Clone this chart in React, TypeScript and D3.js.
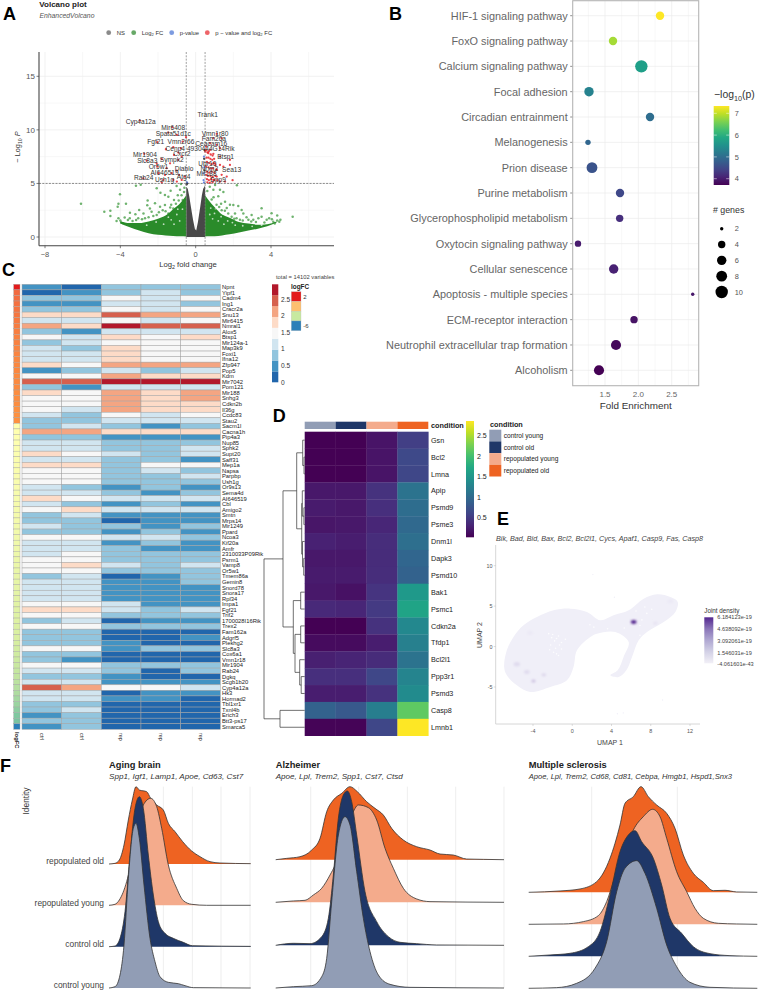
import * as d3 from 'd3';

const FONT = '"Liberation Sans", Arial, sans-serif';

// A: volcano, values as [log2FC, -log10 P]
const volcanoGreenLeft = [[-0.5, 0.05, 3.9], [-0.8, 0.06, 3.2], [-1.2, 0.1, 2.6], [-1.6, 0.15, 2.0], [-2.0, 0.2, 1.7], [-2.5, 0.35, 1.45], [-3.0, 0.6, 1.3], [-3.5, 0.9, 1.3], [-4.0, 1.25, 1.45]];
const volcanoGreenRight = [[0.5, 0.05, 3.9], [0.7, 0.06, 3.4], [1.0, 0.08, 2.8], [1.4, 0.15, 2.1], [1.8, 0.25, 1.8], [2.3, 0.42, 1.4], [2.8, 0.6, 1.25], [3.3, 0.78, 1.15], [3.8, 1.0, 1.2], [4.3, 1.35, 1.45]];
const volcanoGreyTop = [[-0.5, 4.7], [-0.42, 4.5], [-0.34, 3.8], [-0.26, 2.9], [-0.14, 1.6], [-0.04, 0.75], [0.03, 0.6], [0.12, 1.4], [0.25, 2.9], [0.33, 3.9], [0.4, 4.5], [0.5, 4.8]];
const greenPoints = [[-6.09, 3.11], [-4.85, 2.36], [-4.53, 2.46], [-4.53, 1.96], [-4.02, 3.98], [-4.1, 3.11], [-4.14, 2.83], [-3.7, 3.11], [-3.17, 4.79], [-2.92, 4.88], [-2.55, 3.4], [-2.57, 2.96], [-3.0, 2.53], [-3.49, 2.27], [-3.2, 2.12], [-3.77, 1.81], [-4.1, 1.74], [-2.07, 4.55], [-1.87, 4.14], [-1.63, 3.92], [-1.33, 4.32], [-1.01, 4.76], [-0.78, 4.95], [-1.45, 3.76], [-1.15, 3.46], [-2.16, 3.14], [-1.89, 2.83], [-2.34, 2.36], [-2.77, 2.2], [-2.69, 1.75], [-1.63, 2.98], [-1.19, 2.67], [-0.83, 4.4], [-0.69, 3.46], [-2.43, 2.67], [-1.45, 2.2], [-2.07, 2.05], [-3.16, 1.58], [-3.6, 1.58], [-4.0, 1.55], [-3.85, 1.28],
  [-0.62, 4.2], [-0.95, 3.9], [-1.05, 3.1], [-1.3, 3.0], [-1.75, 2.5], [-0.75, 3.9], [-0.6, 4.6], [-1.6, 2.4], [-1.95, 2.3], [-2.25, 1.95], [-2.5, 1.85], [-2.85, 1.65], [-3.05, 1.75], [-3.35, 1.5], [-3.5, 1.75], [-3.95, 1.35], [-4.2, 1.5], [-1.35, 2.75], [-0.9, 3.4],
  [2.19, 4.83], [2.0, 2.99], [2.26, 2.9], [2.44, 2.52], [2.09, 2.2], [2.53, 2.2], [3.5, 2.68], [4.03, 2.21], [3.9, 1.75], [4.33, 2.0], [4.33, 1.53], [5.15, 1.9], [4.44, 1.43], [4.12, 1.43], [3.33, 1.75], [2.97, 2.05], [2.8, 1.6], [3.06, 1.6], [3.5, 1.9], [3.77, 1.6], [1.03, 4.86], [1.29, 4.4], [0.94, 4.4], [1.47, 4.2], [1.2, 3.8], [1.56, 3.3], [0.85, 3.5], [0.76, 3.0], [1.11, 3.0], [1.03, 2.5], [1.82, 3.0], [1.38, 2.5], [1.73, 2.2], [1.65, 2.7], [1.91, 1.9], [2.17, 1.75], [2.35, 1.6], [1.47, 1.9],
  [0.62, 4.3], [0.75, 4.7], [0.95, 3.7], [1.35, 3.1], [1.25, 2.8], [1.55, 2.45], [2.05, 1.7], [2.5, 1.55], [2.7, 1.85], [2.95, 1.45], [3.2, 1.4], [3.65, 1.35], [4.05, 1.65], [4.5, 1.6], [4.2, 1.25]];
const greenSpecks = [[-1.3, 1.6], [-1.0, 2.1], [-0.85, 1.5], [-1.7, 1.2], [-0.7, 2.6], [-1.45, 1.85], [-0.95, 2.6], [-1.15, 1.2], [-2.1, 1.4], [-2.6, 1.1], [1.0, 2.2], [1.2, 1.5], [0.8, 2.7], [1.5, 1.2], [0.9, 1.7], [1.7, 1.5], [2.1, 1.1], [1.35, 1.9], [0.75, 2.1], [1.05, 2.6], [1.95, 1.35], [2.5, 1.05], [3.0, 1.0], [3.5, 1.1]];
const redPoints = [[-2.96, 10.87], [-1.24, 10.25], [-1.45, 9.75], [-1.0, 9.53], [-0.51, 9.31], [-0.69, 8.91], [-2.04, 8.85], [-1.58, 8.19], [-1.19, 8.38], [-0.78, 8.29], [-0.92, 7.88], [-2.73, 7.76], [-1.15, 7.66], [-0.74, 7.51], [-2.6, 7.13], [-1.8, 7.26], [-1.36, 6.88], [-0.92, 7.2], [-2.07, 6.88], [-1.54, 6.42], [-2.04, 6.57], [-1.0, 6.2], [-1.98, 5.95], [-1.63, 5.79], [-1.27, 5.95], [-0.88, 5.79], [-0.57, 5.64], [-2.78, 5.48], [-1.72, 5.33], [-1.8, 5.08], [-1.19, 5.33], [-0.74, 5.33], [-1.0, 5.17],
  [1.12, 9.63], [0.94, 9.22], [1.38, 9.22], [0.76, 8.75], [1.12, 8.6], [0.55, 8.44], [0.76, 8.13], [1.29, 8.29], [0.5, 7.98], [0.67, 7.82], [0.94, 7.76], [1.29, 7.51], [0.55, 8.1], [0.62, 7.9], [0.7, 8.0], [0.8, 7.7], [0.9, 7.6], [0.58, 7.4], [0.68, 7.4], [0.78, 7.3], [0.88, 7.2], [0.98, 7.3], [0.6, 7.0], [0.72, 6.9], [0.85, 6.8], [0.95, 6.9], [1.05, 6.7], [0.55, 6.6], [0.68, 6.5], [0.8, 6.4], [0.92, 6.4], [1.1, 6.3], [0.6, 6.1], [0.72, 6.0], [0.85, 6.1], [1.0, 6.0], [0.55, 5.8], [0.65, 5.7], [0.78, 5.7], [0.9, 5.6], [1.05, 5.7], [0.6, 5.4], [0.7, 5.3], [0.82, 5.4], [0.98, 5.3], [0.62, 5.1], [0.75, 5.05], [0.9, 5.1], [1.15, 5.3], [1.82, 7.2], [1.82, 6.73], [1.47, 6.57], [1.12, 6.26], [1.38, 5.8], [1.65, 5.64], [1.96, 5.3], [1.29, 5.17], [0.94, 5.33], [1.12, 5.64], [1.56, 5.17], [1.29, 6.73], [1.03, 6.88]];
const bluePoints = [[0.44, 5.08], [0.41, 5.95], [0.46, 6.5], [0.44, 7.5], [0.42, 5.3], [-0.46, 5.1]];
const greyPoints = [[-0.48, 4.9], [-0.45, 5.0], [0.48, 8.1], [0.45, 7.3], [0.47, 6.2]];
const volcanoLabels: [string, number, number][] = [['Trank1', 0.64, 11.46], ['Cyp4a12a', -2.92, 10.78], ['Mir6408', -1.19, 10.19], ['Spata51d1c', -1.19, 9.6], ['Vmn1r80', 1.03, 9.66], ['Fam26a', 0.97, 9.16], ['Fgf21', -2.12, 8.88], ['Vmn2r66', -0.78, 8.85], ['Ceacam16', 0.83, 8.69], ['Cenp4', -1.08, 8.22], ['4930444G14Rik', 0.8, 8.22], ['Cxcr2', -0.73, 7.73], ['Btsp1', 1.59, 7.51], ['Mir1904', -2.69, 7.69], ['Slc8a3', -2.57, 7.1], ['Sympk2', -1.27, 7.23], ['Ubr10', 0.62, 6.88], ['Or5w1', -1.98, 6.54], ['Diablo', -0.62, 6.39], ['Sea13', 1.91, 6.32], ['Nrxn2', 0.73, 6.39], ['AI646519', -1.65, 6.01], ['Mir188', 0.58, 5.89], ['Rab24', -2.76, 5.51], ['Ush1g', -1.65, 5.39], ['Atg4', -0.64, 5.61], ['Dpp9', 1.19, 5.33]];

// B: enrichment dot plot
const pathways = ['HIF-1 signaling pathway', 'FoxO signaling pathway', 'Calcium signaling pathway', 'Focal adhesion', 'Circadian entrainment', 'Melanogenesis', 'Prion disease', 'Purine metabolism', 'Glycerophospholipid metabolism', 'Oxytocin signaling pathway', 'Cellular senescence', 'Apoptosis - multiple species', 'ECM-receptor interaction', 'Neutrophil extracellular trap formation', 'Alcoholism'];
const foldEnrichment = [2.325, 1.62, 2.045, 1.26, 2.175, 1.245, 1.305, 1.725, 1.72, 1.095, 1.63, 2.815, 1.935, 1.665, 1.41];
const minusLogP = [7.33, 6.85, 5.75, 5.3, 5.0, 4.9, 4.65, 4.5, 4.2, 4.0, 4.05, 3.95, 3.9, 3.8, 3.72];
const geneCounts = [5, 5, 10, 6, 5, 3, 8, 5, 4, 3.5, 6, 2, 4, 7, 7];
const geneLegend = [2, 4, 6, 8, 10];

// C: heatmap, colour bin per cell
const heatGenes = ['Npnt', 'Yipf1', 'Cadm4', 'Ing1', 'Cracr2a', 'Snu13', 'Mir6415', 'Nmral1', 'Alox5', 'Btsp1', 'Mir124a-1', 'Map3k9', 'Foxi1', 'Ifna12', 'Zfp947', 'Pop5', 'Kdm', 'Mir7042', 'Pom121', 'Mir188', 'Snhg3', 'Cdkn2b', 'Il36g', 'Ccdc83', 'Stau2', 'Sacm1l', 'Cacna1h', 'Pip4a3', 'Nup85', 'Sphk2', 'Supt20', 'Saff31', 'Mep1a', 'Napsa', 'Parpbp', 'Ush1g', 'Or9s13', 'Sema4d', 'AI646519', 'Cbl', 'Amigo2', 'Smtn', 'Mrps14', 'Mir1249', 'Ppard', 'Ncoa3', 'Kif20a', 'Amfr', '2310033P09Rik', 'Psrm1', 'Vamp8', 'Or5w1', 'Tmem86a', 'Gemin8', 'Snord78', 'Snora17', 'Rpl34', 'Impa1', 'Fgf21', 'Trif2', '1700028I16Rik', 'Trex2', 'Fam162a', 'Adgrf5', 'Plekhg2', 'Slc8a3', 'Cox6a1', 'Vmn1r18', 'Mir1904', 'Rab24', 'Dgkq', 'Scgb1b20', 'Cyp4a12a', 'Hk3', 'Hormad2', 'Tbl1xr1', 'Txnl4b', 'Erich3', 'Btt3-ps17', 'Smarca5'];
const heatColumns = ['ctrl', 'ctrl', 'rep', 'rep', 'rep'];
const heatBins = [[1, 0, 2, 2, 2], [0, 1, 2, 3, 2], [2, 2, 4, 3, 4], [1, 1, 3, 3, 2], [2, 2, 4, 3, 4], [5, 5, 7, 6, 6], [3, 3, 4, 3, 4], [6, 5, 8, 7, 7], [2, 1, 3, 3, 3], [4, 3, 5, 4, 5], [2, 3, 4, 4, 4], [3, 2, 5, 4, 4], [3, 3, 5, 4, 4], [3, 3, 5, 4, 4], [5, 4, 6, 6, 6], [1, 2, 3, 2, 3], [4, 4, 6, 5, 5], [7, 7, 8, 8, 8], [2, 1, 3, 3, 3], [5, 4, 6, 5, 6], [4, 4, 6, 5, 6], [4, 4, 6, 5, 5], [4, 3, 6, 5, 5], [3, 2, 4, 3, 4], [2, 2, 3, 3, 3], [2, 3, 2, 1, 2], [6, 6, 5, 5, 5], [2, 2, 1, 1, 1], [3, 3, 2, 2, 2], [3, 3, 2, 2, 3], [5, 4, 3, 2, 3], [3, 3, 2, 2, 1], [5, 5, 2, 4, 4], [4, 4, 2, 3, 2], [4, 4, 2, 2, 3], [4, 4, 2, 2, 2], [3, 2, 1, 2, 1], [3, 3, 2, 1, 2], [5, 4, 3, 3, 3], [3, 2, 1, 2, 1], [4, 5, 3, 3, 3], [2, 3, 1, 1, 1], [2, 2, 0, 1, 1], [3, 2, 2, 1, 2], [2, 2, 1, 2, 1], [4, 4, 3, 3, 2], [3, 3, 1, 2, 1], [3, 3, 2, 1, 1], [3, 4, 2, 2, 2], [4, 4, 2, 2, 2], [4, 5, 3, 2, 3], [4, 4, 2, 2, 2], [2, 3, 0, 1, 2], [3, 3, 1, 1, 2], [3, 3, 1, 1, 1], [3, 3, 1, 1, 1], [3, 3, 1, 1, 1], [4, 4, 3, 1, 1], [5, 5, 3, 2, 3], [4, 4, 2, 2, 2], [2, 3, 0, 1, 1], [4, 4, 2, 2, 2], [2, 2, 0, 0, 0], [2, 2, 0, 0, 1], [2, 2, 1, 0, 0], [4, 4, 1, 2, 2], [2, 2, 0, 0, 0], [2, 1, 0, 0, 0], [4, 4, 2, 2, 2], [3, 3, 2, 0, 2], [2, 2, 1, 0, 0], [3, 3, 1, 1, 1], [7, 6, 4, 4, 3], [3, 3, 0, 1, 1], [3, 3, 1, 1, 0], [2, 2, 0, 0, 0], [2, 3, 0, 0, 0], [1, 2, 0, 0, 0], [2, 2, 0, 0, 0], [1, 2, 0, 0, 0]];
const heatPalette = ['#2166ac', '#4393c3', '#92c5de', '#d1e5f0', '#f7f7f7', '#fddbc7', '#f4a582', '#d6604d', '#b2182b'];
const heatLegendTicks = [0, 0.5, 1, 1.5, 2, 2.5];
const logFC = [2.0, 1.4, 1.35, 1.3, 1.25, 1.2, 1.15, 1.1, 1.05, 1.0, 1.0, 0.95, 0.95, 0.9, 0.9, 0.9, 0.85, 0.85, 0.85, 0.8, 0.8, 0.8, 0.75, 0.75, 0.75,
  -0.4, -0.4, -0.42, -0.42, -0.45, -0.45, -0.48, -0.48, -0.5, -0.5, -0.52, -0.52, -0.55, -0.55, -0.58, -0.6, -0.6, -0.62, -0.65, -0.65, -0.68, -0.7, -0.72, -0.75, -0.78, -0.8, -0.82, -0.85, -0.88, -0.9, -0.92, -0.95, -0.98, -1.0, -1.02, -1.05, -1.1, -1.12, -1.15, -1.2, -1.25, -1.3, -1.35, -1.4, -1.45, -1.5, -1.6, -1.7, -1.8, -1.95, -2.1, -2.3, -2.5, -2.7, -6.0];

// D: condition heatmap
const conditions = ['control young', 'control old', 'repopulated young', 'repopulated old'];
const conditionColors = ['#919db5', '#1f3768', '#f4ab8c', '#ee6322'];
const apoptosisGenes = ['Gsn', 'Bcl2', 'Lmna', 'Apip', 'Psmd9', 'Psme3', 'Dnm1l', 'Dapk3', 'Psmd10', 'Bak1', 'Psmc1', 'Cdkn2a', 'Tfdp1', 'Bcl2l1', 'Ppp3r1', 'Psmd3', 'Casp8', 'Lmnb1'];
const apoptosisValues = [[0.03, 0.03, 0.17, 0.55], [0.03, 0.03, 0.17, 0.65], [0.03, 0.03, 0.17, 0.62], [0.2, 0.2, 0.42, 1.1], [0.22, 0.2, 0.4, 1.02], [0.18, 0.2, 0.33, 0.98], [0.28, 0.25, 0.38, 1.05], [0.2, 0.2, 0.37, 0.95], [0.22, 0.22, 0.38, 0.9], [0.2, 0.15, 0.45, 1.55], [0.35, 0.32, 0.5, 1.68], [0.02, 0.02, 0.42, 1.35], [0.1, 0.1, 0.25, 1.25], [0.27, 0.3, 0.37, 1.1], [0.4, 0.4, 0.62, 1.3], [0.25, 0.25, 0.42, 1.38], [0.9, 0.8, 1.22, 2.15], [0.05, 0.05, 0.62, 2.86]];
const viridisTicks = [0.5, 1, 1.5, 2, 2.5];
type TreeNode = { h: number; c: (TreeNode | number)[] };
const geneTree: TreeNode = { h: 40.7, c: [
  { h: 21.7, c: [
    { h: 8, c: [
      { h: 2, c: [0, { h: 0.7, c: [1, 2] }] },
      { h: 3, c: [{ h: 2.4, c: [3, { h: 0.8, c: [4, 5] }] }, { h: 2.2, c: [6, { h: 1, c: [7, 8] }] }] },
    ] },
    { h: 11.4, c: [
      { h: 4, c: [9, 10] },
      { h: 9.7, c: [{ h: 4, c: [11, 12] }, { h: 5, c: [13, { h: 3.5, c: [14, 15] }] }] },
    ] },
  ] },
  { h: 24.7, c: [16, 17] },
] };

// E: UMAP joint density
const umapOutline = [[-6.94, -2.52], [-6.67, -0.46], [-5.99, 1.19], [-4.97, 2.63], [-3.6, 3.65], [-1.9, 4.48], [-0.2, 4.69], [1.5, 4.28], [2.86, 3.25], [4.21, 3.86], [5.75, 4.48], [7.28, 5.92], [8.64, 6.46], [10, 6.13], [10.75, 5.52], [10.51, 4.28], [9.32, 3.04], [7.62, 1.8], [6.77, 0.77], [6.09, -1.28], [5.51, -2.93], [4.73, -3.76], [3.88, -3.55], [4.63, -2.93], [5.23, -1.28], [5.75, 0.56], [4.39, 1.8], [2.52, 1.6], [1.84, 1.19], [0.48, -0.46], [0.13, -2.52], [-0.54, -4.17], [-2.24, -5], [-4.29, -5.62], [-5.64, -4.79], [-6.67, -3.55]];
const umapHotspots = [[6.26, 3.04, 1, 2.8], [-3.95, -4.25, 0.22, 2.2], [-4.63, -3.14, 0.1, 2.8], [-5.65, -2.2, 0.1, 3.2], [-2.9, -3.5, 0.12, 2.4], [8.47, 2.9, 0.06, 2.4], [10, 5.6, 0.03, 3], [-4.3, 1.7, 0.03, 3]];
const umapGaps = [[-2.4, 1.6], [-2.1, 1.1], [-1.8, 0.7], [-2.2, 0.2], [-1.7, -0.2], [-1.4, 1.3], [-1.1, 0.5], [-1.9, -0.7], [-1.4, -1.1], [-1.1, -0.3], [-0.7, 0.9], [-2.0, 1.5], [-1.6, 1.0], [-1.3, 0.2], [-2.3, -0.4], [-1.6, -0.9], [1.8, 2.7], [2.2, 2.4], [3.6, 2.2], [5.3, 2.3], [6.9, 2.6], [7.1, 3.3], [7.6, 4.1], [8.1, 4.6], [7.4, 4.9], [6.5, 4.4], [6.9, 1.4]];
const umapSpecks = [[2.1, 8.9], [4.3, 6.1], [9.2, -6.6], [4.6, -8.3], [5.2, -8.2]];
const umapXTicks = [-4, 0, 4, 8, 12];
const umapYTicks = [-5, 0, 5, 10];
const densityLabels = ['6.184123e-19', '4.638092e-19', '3.092061e-19', '1.546031e-19', '-4.061601e-43'];

// F: ridge densities as [score, density], one list per identity
const identities = ['repopulated old', 'repopulated young', 'control old', 'control young'];
const agingRidges = [
  [[3.27, 0], [3.45, 0.02], [3.58, 0.12], [3.72, 0.57], [3.85, 1.32], [3.97, 1.92], [4.08, 2.32], [4.18, 2.22], [4.4, 2.17], [4.52, 1.97], [4.7, 1.77], [4.9, 1.62], [5.05, 1.22], [5.25, 0.97], [5.48, 0.67], [5.75, 0.39], [6.0, 0.22], [6.3, 0.07], [6.6, 0.03], [7.52, 0.01]],
  [[3.27, 0], [3.45, 0.03], [3.58, 0.16], [3.8, 0.71], [3.9, 1.11], [4.1, 2.11], [4.3, 3.01], [4.52, 3.21], [4.7, 2.96], [4.85, 2.31], [5.05, 1.21], [5.3, 0.51], [5.5, 0.14], [5.75, 0.03], [6.2, 0], [7.52, 0]],
  [[3.27, 0], [3.45, 0.02], [3.6, 0.25], [3.75, 1.05], [3.9, 2.75], [4.05, 4.15], [4.18, 4.5], [4.3, 4.15], [4.45, 2.75], [4.6, 1.55], [4.75, 0.75], [4.95, 0.4], [5.2, 0.25], [5.5, 0.13], [5.77, 0.03], [7.52, 0.01]],
  [[3.27, 0], [3.45, 0.04], [3.6, 0.39], [3.72, 1.29], [3.85, 3.29], [4.0, 4.79], [4.08, 4.94], [4.18, 4.49], [4.32, 3.09], [4.5, 1.49], [4.65, 0.79], [4.8, 0.34], [5.05, 0.17], [5.35, 0.13], [5.55, 0.07], [5.8, 0.01], [7.52, 0]],
];
const alzheimerRidges = [
  [[0.17, 0], [0.5, 0.04], [0.9, 0.09], [1.25, 0.29], [1.5, 0.64], [1.7, 1.44], [1.9, 1.79], [2.15, 1.99], [2.4, 2.19], [2.62, 2.04], [2.9, 1.74], [3.15, 1.54], [3.4, 1.34], [3.65, 0.94], [4.0, 0.59], [4.4, 0.39], [4.8, 0.29], [5.1, 0.17], [5.5, 0.14], [5.9, 0.02], [6.4, 0.01], [7.02, 0]],
  [[0.17, 0], [0.7, 0.04], [1.05, 0.06], [1.3, 0.22], [1.55, 0.42], [1.8, 0.82], [1.95, 1.12], [2.2, 2.02], [2.45, 2.62], [2.65, 2.92], [2.95, 2.84], [3.2, 2.47], [3.45, 1.62], [3.7, 1.02], [4.0, 0.42], [4.4, 0.1], [4.8, 0.02], [7.02, 0]],
  [[0.17, 0], [0.7, 0.06], [1.2, 0.05], [1.55, 0.26], [1.75, 0.81], [1.9, 2.11], [2.05, 3.81], [2.2, 4.51], [2.32, 4.63], [2.45, 4.31], [2.6, 3.31], [2.85, 1.61], [3.2, 0.71], [3.55, 0.26], [3.9, 0.09], [4.4, 0.05], [5.0, 0.01], [7.02, 0]],
  [[0.17, 0], [0.7, 0.04], [1.25, 0.07], [1.55, 0.34], [1.7, 0.89], [1.85, 2.59], [2.05, 4.59], [2.25, 5.14], [2.4, 4.89], [2.6, 3.49], [2.8, 2.09], [3.0, 1.09], [3.25, 0.39], [3.6, 0.11], [4.2, 0.02], [7.02, 0]],
];
const sclerosisRidges = [
  [[7.76, 0], [8.7, 0.04], [9.3, 0.1], [9.8, 0.32], [10.2, 1.02], [10.5, 2.02], [10.65, 2.67], [10.9, 2.87], [11.13, 3.17], [11.35, 2.87], [11.6, 2.62], [11.9, 2.37], [12.15, 1.92], [12.4, 1.12], [12.7, 0.57], [13.0, 0.3], [13.3, 0.05], [13.65, 0.06], [14.0, 0.01], [14.62, 0]],
  [[7.76, 0], [8.8, 0.01], [9.4, 0.08], [9.85, 0.26], [10.1, 0.68], [10.35, 1.43], [10.65, 2.18], [10.9, 2.83], [11.2, 3.23], [11.48, 3.45], [11.7, 3.23], [11.9, 2.58], [12.2, 1.58], [12.5, 0.98], [12.75, 0.48], [13.0, 0.18], [13.45, 0.03], [14.0, 0.01], [14.62, 0]],
  [[7.76, 0], [8.4, 0.04], [9.0, 0.09], [9.55, 0.29], [9.9, 0.74], [10.2, 1.84], [10.5, 3.14], [10.75, 3.64], [10.95, 3.77], [11.15, 3.44], [11.5, 2.94], [11.75, 2.14], [12.0, 1.14], [12.35, 0.69], [12.7, 0.29], [13.2, 0.08], [13.8, 0.02], [14.62, 0]],
  [[7.76, 0], [8.6, 0.02], [9.2, 0.15], [9.75, 0.6], [10.1, 1.4], [10.4, 2.9], [10.65, 3.6], [11.0, 3.83], [11.25, 3.45], [11.6, 2.4], [11.9, 1.3], [12.2, 0.65], [12.6, 0.18], [13.2, 0.03], [14.62, 0]],
];

// subscript text, the text after it goes back up to the baseline
const Sub = ({ text, after, size }: { text: string; after: string; size: number }) => (
  <>
    <tspan dy={size * 0.3} fontSize={size * 0.7}>{text}</tspan>
    <tspan dy={-size * 0.3}>{after}</tspan>
  </>
);

function Volcano() {
  const x = d3.scaleLinear().domain([-8, 4]).range([45, 271]);
  const y = d3.scaleLinear().domain([0, 15]).range([237, 76.3]);
  const left = 39, right = 334, top = 52, bottom = 245.7;
  const area = d3.area<number[]>().x((d) => x(d[0])).y0((d) => y(d[1])).y1((d) => y(d[2])).curve(d3.curveMonotoneX);
  const greyArea = d3.area<number[]>().x((d) => x(d[0])).y0(y(0)).y1((d) => y(d[1])).curve(d3.curveLinear);
  const legend = [['#8a8a8a', 108.7, 'NS'], ['#67a867', 133.7, 'Log'], ['#7d9be0', 171.7, 'p-value'], ['#ee6468', 207.3, 'p \u2212 value and log']] as const;
  return (
    <g>
      <text x={39.3} y={6.7} fontSize={8} fontWeight="bold" fill="#222">Volcano plot</text>
      <text x={39.5} y={17.7} fontSize={6.8} fontStyle="italic" fill="#555">EnhancedVolcano</text>
      {legend.map(([c, lx, t]) => (
        <g key={lx}>
          <circle cx={lx} cy={32.7} r={2.4} fill={c} />
          <text x={lx + 8} y={34.6} fontSize={5.9} fill="#333">
            {t}
            {t.toLowerCase().endsWith('log') && <Sub text="2" after=" FC" size={5.9} />}
          </text>
        </g>
      ))}
      {d3.range(0, 17.5, 2.5).map((v) => <line key={v} x1={left} x2={right} y1={y(v)} y2={y(v)} stroke="#eeeeee" strokeWidth={v % 5 ? 0.5 : 0.8} />)}
      {d3.range(-8, 8, 2).map((v) => <line key={v} x1={x(v)} x2={x(v)} y1={top} y2={bottom} stroke="#eeeeee" strokeWidth={v % 4 ? 0.5 : 0.8} />)}
      <path d={greyArea(volcanoGreyTop) ?? ''} fill="#484848" />
      <path d={area(volcanoGreenLeft) ?? ''} fill="#2a8b2a" />
      <path d={area(volcanoGreenRight) ?? ''} fill="#2a8b2a" />
      {greenSpecks.map((d, i) => <circle key={i} cx={x(d[0])} cy={y(d[1])} r={0.9} fill="#fff" opacity={0.7} />)}
      {greenPoints.map((d, i) => <circle key={i} cx={x(d[0])} cy={y(d[1])} r={1.25} fill="#228b22" opacity={0.65} />)}
      {greyPoints.map((d, i) => <circle key={i} cx={x(d[0])} cy={y(d[1])} r={1.1} fill="#333" />)}
      {bluePoints.map((d, i) => <circle key={i} cx={x(d[0])} cy={y(d[1])} r={1.1} fill="#4169e1" opacity={0.8} />)}
      {redPoints.map((d, i) => <circle key={i} cx={x(d[0])} cy={y(d[1])} r={1.15} fill="#e3141c" opacity={0.8} />)}
      {[-0.5, 0.5].map((v) => <line key={v} x1={x(v)} x2={x(v)} y1={top} y2={bottom} stroke="#777" strokeWidth={0.7} strokeDasharray="2 1.3" />)}
      <line x1={left} x2={right} y1={y(5)} y2={y(5)} stroke="#444" strokeWidth={0.6} strokeDasharray="2 1.3" />
      {volcanoLabels.map(([t, a, b]) => <text key={t} x={x(a)} y={y(b)} dy="0.35em" textAnchor="middle" fontSize={6.6} fill="#333">{t}</text>)}
      <line x1={left} x2={left} y1={top} y2={bottom} stroke="#444" strokeWidth={1.1} />
      <line x1={left} x2={right} y1={bottom} y2={bottom} stroke="#444" strokeWidth={1.1} />
      {[0, 5, 10, 15].map((v) => (
        <g key={v}>
          <line x1={left - 2.5} x2={left} y1={y(v)} y2={y(v)} stroke="#444" strokeWidth={0.7} />
          <text x={left - 4} y={y(v)} dy="0.36em" textAnchor="end" fontSize={8} fill="#555">{v}</text>
        </g>
      ))}
      {[-8, -4, 0, 4].map((v) => (
        <g key={v}>
          <line x1={x(v)} x2={x(v)} y1={bottom} y2={bottom + 2.5} stroke="#444" strokeWidth={0.7} />
          <text x={x(v)} y={256.5} textAnchor="middle" fontSize={7.5} fill="#555">{v < 0 ? `\u2212${-v}` : v}</text>
        </g>
      ))}
      <text transform="translate(19.5,147) rotate(-90)" textAnchor="middle" fontSize={7.4} fill="#333">
        {'\u2212'} Log<Sub text="10" after=" " size={7.4} /><tspan fontStyle="italic">P</tspan>
      </text>
      <text x={188} y={266.5} textAnchor="middle" fontSize={7.7} fill="#333">
        Log<Sub text="2" after=" fold change" size={7.7} />
      </text>
    </g>
  );
}

function DotPlot() {
  const x = d3.scaleLinear().domain([1.5, 2.5]).range([605, 671.7]);
  const y = d3.scalePoint().domain(pathways).range([15.7, 370.3]);
  const color = d3.scaleSequential(d3.interpolateViridis).domain([3.72, 7.33]);
  const r = d3.scaleLinear().domain([2, 4, 6, 8, 10]).range([1.7, 3.7, 4.7, 5.4, 6.2]);
  const legendY = d3.scaleLinear().domain([4, 7]).range([178.7, 113.3]);
  const barStops = d3.range(0, 1.01, 0.1);
  const sizeY = d3.scalePoint().domain(geneLegend.map(String)).range([228.7, 292]);
  const L = 572.7, R = 698.7, T = 0.7, B = 385.7;
  return (
    <g>
      <defs>
        <linearGradient id="viridisB" x1="0" y1="1" x2="0" y2="0">
          {barStops.map((t) => <stop key={t} offset={t} stopColor={d3.interpolateViridis(t)} />)}
        </linearGradient>
      </defs>
      {pathways.map((p) => <line key={p} x1={L} x2={R} y1={y(p)} y2={y(p)} stroke="#ebebeb" strokeWidth={0.7} />)}
      {[1.25, 1.5, 1.75, 2, 2.25, 2.5, 2.75].map((v) => <line key={v} x1={x(v)} x2={x(v)} y1={T} y2={B} stroke="#ebebeb" strokeWidth={v * 2 % 1 ? 0.4 : 0.7} />)}
      {pathways.map((p, i) => (
        <g key={p}>
          <circle cx={x(foldEnrichment[i])} cy={y(p)} r={r(geneCounts[i])} fill={color(minusLogP[i])} />
          <line x1={L - 2.5} x2={L} y1={y(p)} y2={y(p)} stroke="#444" strokeWidth={0.6} />
          <text x={L - 5} y={y(p)} dy="0.36em" textAnchor="end" fontSize={10.9} fill="#666">{p}</text>
        </g>
      ))}
      <rect x={L} y={T} width={R - L} height={B - T} fill="none" stroke="#b5b5b5" strokeWidth={1.1} />
      {[1.5, 2, 2.5].map((v) => <text key={v} x={x(v)} y={396.5} textAnchor="middle" fontSize={8} fill="#666">{v.toFixed(1)}</text>)}
      <text x={635.7} y={409} textAnchor="middle" fontSize={9.9} fill="#333">Fold Enrichment</text>
      <text x={714} y={98} fontSize={10.4} fill="#333">{'\u2212'}log<Sub text="10" after="(p)" size={10.4} /></text>
      <rect x={713.7} y={106} width={15.6} height={79} fill="url(#viridisB)" />
      {[4, 5, 6, 7].map((v) => (
        <g key={v}>
          <line x1={713.7} x2={716.8} y1={legendY(v)} y2={legendY(v)} stroke="#fff" strokeWidth={0.5} />
          <line x1={726.2} x2={729.3} y1={legendY(v)} y2={legendY(v)} stroke="#fff" strokeWidth={0.5} />
          <text x={734.7} y={legendY(v)} dy="0.36em" fontSize={7.4} fill="#555">{v}</text>
        </g>
      ))}
      <text x={713} y={213} fontSize={8.8} fill="#333"># genes</text>
      {geneLegend.map((g) => (
        <g key={g}>
          <circle cx={721.7} cy={sizeY(String(g))} r={r(g)} fill="#000" />
          <text x={734.7} y={sizeY(String(g))} dy="0.36em" fontSize={7.4} fill="#555">{g}</text>
        </g>
      ))}
    </g>
  );
}

function Heatmap() {
  const x = d3.scaleBand().domain(d3.range(heatColumns.length).map(String)).range([22, 220.3]);
  const y = d3.scaleBand().domain(heatGenes).range([284.3, 729.3]);
  const bin = d3.scaleOrdinal<number, string>().domain(d3.range(9)).range(heatPalette);
  const fc = d3.scaleLinear<string>().domain([-6, -2.5, -1.2, -0.4, 0.75, 1.4, 2]).range(['#2c7fb8', '#7fc8a0', '#d6eea0', '#ffffb0', '#fd9040', '#f26a40', '#e31a1c']);
  const legendY = d3.scaleLinear().domain([0, 2.95]).range([382.3, 284.3]);
  const step = 2.95 / 9;
  const fcLegend = ['#e31a1c', '#fdbf6f', '#c7e9a0', '#2c7fb8'];
  return (
    <g>
      {heatGenes.map((g, r) => (
        <g key={g}>
          <rect x={13.7} y={y(g)} width={6.3} height={y.bandwidth()} fill={fc(logFC[r])} stroke="#a6a6a6" strokeWidth={0.4} />
          {heatBins[r].map((v, c) => (
            <rect key={c} x={x(String(c))} y={y(g)} width={x.bandwidth()} height={y.bandwidth()} fill={bin(v)} stroke="#a3a3a3" strokeWidth={0.5} />
          ))}
          <text x={222} y={(y(g) ?? 0) + y.bandwidth() / 2} dy="0.36em" fontSize={5.8} fill="#222">{g}</text>
        </g>
      ))}
      {heatColumns.map((c, i) => (
        <text key={i} transform={`translate(${(x(String(i)) ?? 0) + x.bandwidth() / 2},733) rotate(90)`} dy="0.35em" fontSize={5.4} fill="#333">{c}</text>
      ))}
      <text transform="translate(16.7,732) rotate(90)" dy="0.35em" fontSize={5.8} fontWeight="bold" fill="#222">logFC</text>
      {heatPalette.map((c, i) => (
        <rect key={c} x={272} y={legendY((i + 1) * step)} width={6.3} height={legendY(i * step) - legendY((i + 1) * step)} fill={c} />
      ))}
      {heatLegendTicks.map((v) => <text key={v} x={281} y={legendY(v)} dy="0.36em" fontSize={6.6} fill="#333">{v}</text>)}
      <text x={276} y={279} fontSize={5.8} fill="#444">total = 14102 variables</text>
      <text x={291} y={289} fontSize={6.4} fontWeight="bold" fill="#222">logFC</text>
      {fcLegend.map((c, i) => <rect key={c} x={291.3} y={291.7 + i * 9.75} width={9.7} height={9.75} fill={c} stroke="#bbb" strokeWidth={0.3} />)}
      <text x={303.3} y={296.5} dy="0.36em" fontSize={6} fill="#333">2</text>
      <text x={303.3} y={326} dy="0.36em" fontSize={6} fill="#333">-6</text>
    </g>
  );
}

function ConditionHeatmap() {
  const x = d3.scaleBand().domain(conditions).range([304.7, 428.3]);
  const y = d3.scaleBand().domain(apoptosisGenes).range([431.7, 735.7]);
  const color = d3.scaleSequential(d3.interpolateViridis).domain([0.02, 2.86]);
  const h = d3.scaleLinear().domain([0, 40.7]).range([304.7, 264]);
  const barY = d3.scaleLinear().domain([0.5, 2.5]).range([517.7, 435.7]);
  const links: string[] = [];
  const layout = (n: TreeNode | number): [number, number] => {
    if (typeof n === 'number') return [h(0), (y(apoptosisGenes[n]) ?? 0) + y.bandwidth() / 2];
    const kids = n.c.map(layout);
    const nx = h(n.h);
    const ny = d3.mean(kids, (k) => k[1]) ?? 0;
    links.push(`M${kids[0][0]},${kids[0][1]}H${nx}V${kids[1][1]}H${kids[1][0]}`);
    return [nx, ny];
  };
  layout(geneTree);
  const stops = d3.range(0, 1.01, 0.1);
  return (
    <g>
      <defs>
        <linearGradient id="viridisD" x1="0" y1="1" x2="0" y2="0">
          {stops.map((t) => <stop key={t} offset={t} stopColor={d3.interpolateViridis(t)} />)}
        </linearGradient>
      </defs>
      {conditions.map((c, i) => <rect key={c} x={x(c)} y={421.7} width={x.bandwidth()} height={7.3} fill={conditionColors[i]} />)}
      <text x={431} y={427.8} fontSize={7.3} fontWeight="bold" fill="#222">condition</text>
      {apoptosisGenes.map((g, r) => (
        <g key={g}>
          {conditions.map((c, i) => <rect key={c} x={x(c)} y={y(g)} width={x.bandwidth() + 0.3} height={y.bandwidth() + 0.3} fill={color(apoptosisValues[r][i])} />)}
          <text x={431} y={(y(g) ?? 0) + y.bandwidth() / 2} dy="0.36em" fontSize={7.2} fill="#222">{g}</text>
        </g>
      ))}
      {links.map((d, i) => <path key={i} d={d} fill="none" stroke="#333" strokeWidth={0.7} />)}
      <rect x={466} y={421} width={8} height={116.3} fill="url(#viridisD)" />
      {viridisTicks.map((v) => <text key={v} x={477} y={barY(v)} dy="0.36em" fontSize={7} fill="#222">{v}</text>)}
      <text x={490} y={427} fontSize={7.3} fontWeight="bold" fill="#222">condition</text>
      {conditions.map((c, i) => (
        <g key={c}>
          <rect x={489.3} y={429.7 + i * 11.7} width={12} height={11.7} fill={conditionColors[i]} />
          <text x={503.7} y={429.7 + (i + 0.5) * 11.7} dy="0.36em" fontSize={6.6} fill="#222">{c}</text>
        </g>
      ))}
    </g>
  );
}

function Umap() {
  const x = d3.scaleLinear().domain([-4, 12]).range([533, 690]);
  const y = d3.scaleLinear().domain([-5, 10]).range([687, 565.7]);
  const line = d3.line<number[]>().x((d) => x(d[0])).y((d) => y(d[1])).curve(d3.curveCatmullRomClosed.alpha(0.5));
  const shade = d3.scaleLinear<string>().domain([0, 1]).range(['#f0eff8', '#54278f']);
  const legendY = d3.scalePoint().domain(densityLabels).range([617.3, 664.3]);
  return (
    <g>
      <defs>
        <filter id="umapBlur" x="-300%" y="-300%" width="700%" height="700%"><feGaussianBlur stdDeviation="1" /></filter>
        <linearGradient id="densityBar" x1="0" y1="0" x2="0" y2="1">
          <stop offset="0" stopColor="#54278f" />
          <stop offset="0.25" stopColor="#8a75b8" />
          <stop offset="0.5" stopColor="#b0a8d2" />
          <stop offset="0.75" stopColor="#d3d1e6" />
          <stop offset="1" stopColor="#f2f0f7" />
        </linearGradient>
      </defs>
      <text x={496} y={541} fontSize={7.2} fontStyle="italic" fill="#444">Bik, Bad, Bid, Bax, Bcl2, Bcl2l1, Cycs, Apaf1, Casp9, Fas, Casp8</text>
      <path d={line(umapOutline) ?? ''} fill="#f0eff8" />
      {umapGaps.map((d, i) => <circle key={i} cx={x(d[0])} cy={y(d[1])} r={0.8} fill="#fff" opacity={0.8} />)}
      {umapSpecks.map((d, i) => <circle key={i} cx={x(d[0])} cy={y(d[1])} r={0.7} fill="#f0eff8" />)}
      {umapHotspots.map((d, i) => <ellipse key={i} cx={x(d[0])} cy={y(d[1])} rx={d[3]} ry={d[3] * 0.7} fill={shade(d[2])} filter="url(#umapBlur)" />)}
      <line x1={495.7} x2={495.7} y1={545} y2={724} stroke="#ccc" strokeWidth={0.8} />
      <line x1={495.7} x2={700} y1={724} y2={724} stroke="#ccc" strokeWidth={0.8} />
      {umapXTicks.map((v) => (
        <g key={v}>
          <line x1={x(v)} x2={x(v)} y1={724} y2={726} stroke="#bbb" strokeWidth={0.5} />
          <text x={x(v)} y={732.5} textAnchor="middle" fontSize={5.4} fill="#555">{v}</text>
        </g>
      ))}
      {umapYTicks.map((v) => (
        <g key={v}>
          <line x1={493.7} x2={495.7} y1={y(v)} y2={y(v)} stroke="#bbb" strokeWidth={0.5} />
          <text x={492.5} y={y(v)} dy="0.36em" textAnchor="end" fontSize={5.4} fill="#555">{v}</text>
        </g>
      ))}
      <text x={610} y={745} textAnchor="middle" fontSize={7} fill="#444">UMAP 1</text>
      <text transform="translate(482,635) rotate(-90)" textAnchor="middle" fontSize={7} fill="#444">UMAP 2</text>
      <text x={704.3} y={613} fontSize={6.3} fill="#333">Joint density</text>
      <rect x={704.3} y={617.3} width={9} height={46} fill="url(#densityBar)" />
      {densityLabels.map((t) => <text key={t} x={717.3} y={legendY(t)} dy="0.36em" fontSize={5.6} fill="#444">{t}</text>)}
    </g>
  );
}

const ridgePanels = [
  { title: 'Aging brain', genes: 'Spp1, Igf1, Lamp1, Apoe, Cd63, Cst7', geneSize: 8.1, ridges: agingRidges, domain: [3.27, 7.52], range: [109, 250.7], bases: [864, 905.3, 946.7, 988], grid: [4.9, 5.77, 6.63, 7.5] },
  { title: 'Alzheimer', genes: 'Apoe, Lpl, Trem2, Spp1, Cst7, Ctsd', geneSize: 8.1, ridges: alzheimerRidges, domain: [0.17, 7.02], range: [275.7, 504], bases: [859.7, 902.3, 945.3, 988], grid: [1.22, 2.66, 4.12, 5.57, 7.02] },
  { title: 'Multiple sclerosis', genes: 'Apoe, Lpl, Trem2, Cd68, Cd81, Cebpa, Hmgb1, Hspd1,Snx3', geneSize: 7.6, ridges: sclerosisRidges, domain: [7.76, 14.62], range: [528.7, 757.3], bases: [892.3, 924.3, 956.3, 988.3], grid: [9.65, 12.22] },
];

function Ridges() {
  return (
    <g>
      <text transform="translate(29,801) rotate(-90)" textAnchor="middle" fontSize={8.4} fill="#333">Identity</text>
      {identities.map((t, i) => (
        <text key={t} x={104} y={ridgePanels[0].bases[i] - 2.7} dy="0.36em" textAnchor="end" fontSize={8.4} fill="#444">{t}</text>
      ))}
      {ridgePanels.map((p) => {
        const x = d3.scaleLinear().domain(p.domain).range(p.range);
        const y = d3.scaleLinear().domain([0, 1]).range([0, -33.33]);
        return (
          <g key={p.title}>
            <text x={p.range[0]} y={768.3} fontSize={9.3} fontWeight="bold" fill="#222">{p.title}</text>
            <text x={p.range[0]} y={779.3} fontSize={p.geneSize} fontStyle="italic" fill="#333">{p.genes}</text>
            {p.grid.map((g) => <line key={g} x1={x(g)} x2={x(g)} y1={786.7} y2={988} stroke="#e6e6e6" strokeWidth={0.7} />)}
            {p.ridges.map((r, i) => {
              const area = d3.area<number[]>().x((d) => x(d[0])).y0(p.bases[i]).y1((d) => p.bases[i] + y(d[1])).curve(d3.curveMonotoneX);
              const top = d3.line<number[]>().x((d) => x(d[0])).y((d) => p.bases[i] + y(d[1])).curve(d3.curveMonotoneX);
              return (
                <g key={i}>
                  <path d={area(r as number[][]) ?? ''} fill={conditionColors[3 - i]} />
                  <path d={top(r as number[][]) ?? ''} fill="none" stroke="#333" strokeWidth={0.8} />
                </g>
              );
            })}
          </g>
        );
      })}
    </g>
  );
}

const panelLetters: [string, number, number][] = [['A', 3, 20], ['B', 389, 19.5], ['C', 2, 275.7], ['D', 272.7, 421.7], ['E', 497, 525], ['F', 0, 772]];

export default function App() {
  return (
    <svg width={759} height={991} style={{ position: 'absolute', left: 0, top: 0, background: '#fff' }} fontFamily={FONT}>
      <Volcano />
      <DotPlot />
      <Heatmap />
      <ConditionHeatmap />
      <Umap />
      <Ridges />
      {panelLetters.map(([t, x, y]) => <text key={t} x={x} y={y} fontSize={18} fontWeight="bold" fill="#000">{t}</text>)}
    </svg>
  );
}
